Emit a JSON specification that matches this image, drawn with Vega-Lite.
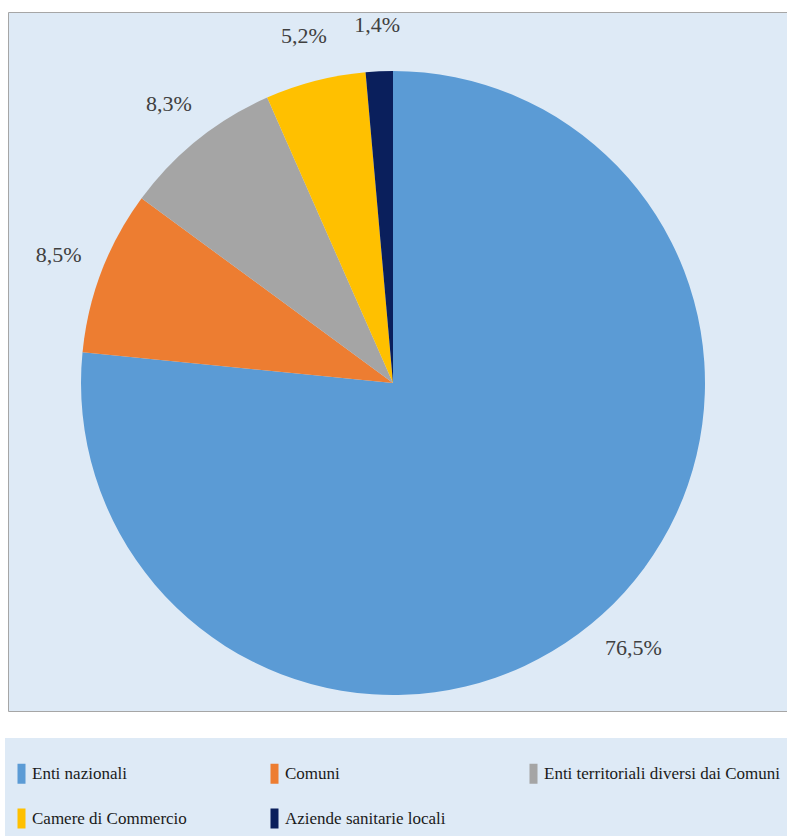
{
  "$schema": "https://vega.github.io/schema/vega-lite/v6.json",
  "width": 779,
  "height": 699,
  "padding": {"left": 5, "top": 12, "right": 0, "bottom": 0},
  "background": "white",
  "view": {"fill": "#DEEAF6", "stroke": "#A6A6A6", "strokeWidth": 1},
  "config": {
    "view": {"fill": "#DEEAF6", "stroke": "#A6A6A6", "strokeWidth": 1}
  },
  "data": {
    "values": [
      {"categoria": "Enti nazionali", "quota": 76.5, "etichetta": "76,5%", "ordine": 1},
      {"categoria": "Comuni", "quota": 8.5, "etichetta": "8,5%", "ordine": 2},
      {"categoria": "Enti territoriali diversi dai Comuni", "quota": 8.3, "etichetta": "8,3%", "ordine": 3},
      {"categoria": "Camere di Commercio", "quota": 5.2, "etichetta": "5,2%", "ordine": 4},
      {"categoria": "Aziende sanitarie locali", "quota": 1.4, "etichetta": "1,4%", "ordine": 5}
    ]
  },
  "encoding": {
    "theta": {"field": "quota", "type": "quantitative", "stack": true},
    "order": {"field": "ordine", "type": "quantitative"}
  },
  "layer": [
    {
      "mark": {
        "type": "arc",
        "outerRadius": 312,
        "x": {"expr": "width/2 - 4.5"},
        "y": {"expr": "height/2 + 21.5"},
        "strokeWidth": 0
      },
      "encoding": {
        "color": {
          "field": "categoria",
          "type": "nominal",
          "scale": {
            "domain": ["Enti nazionali", "Camere di Commercio", "Comuni", "Aziende sanitarie locali", "Enti territoriali diversi dai Comuni"],
            "range": ["#5B9BD5", "#FFC000", "#ED7D31", "#0A1F5C", "#A5A5A5"]
          },
          "legend": {
            "orient": "none",
            "legendX": -3,
            "legendY": 726,
            "columns": 3,
            "title": " ",
            "titleFontSize": 14,
            "titlePadding": 5,
            "padding": 8,
            "fillColor": "#DEEAF6",
            "labelFont": "Liberation Serif",
            "labelFontSize": 17,
            "labelColor": "#1A1A1A",
            "labelLimit": 400,
            "labelOffset": 2,
            "symbolType": "M-1,-2.5H1V2.5H-1Z",
            "symbolSize": 64,
            "symbolStrokeWidth": 0,
            "rowPadding": 24,
            "columnPadding": 79
          }
        }
      }
    },
    {
      "mark": {
        "type": "text",
        "radius": 358,
        "x": {"expr": "width/2 - 4.5"},
        "y": {"expr": "height/2 + 21.5"},
        "font": "Liberation Serif",
        "fontSize": 22,
        "color": "#404040",
        "align": "center",
        "baseline": "middle"
      },
      "encoding": {
        "text": {"field": "etichetta", "type": "nominal"}
      }
    }
  ]
}
